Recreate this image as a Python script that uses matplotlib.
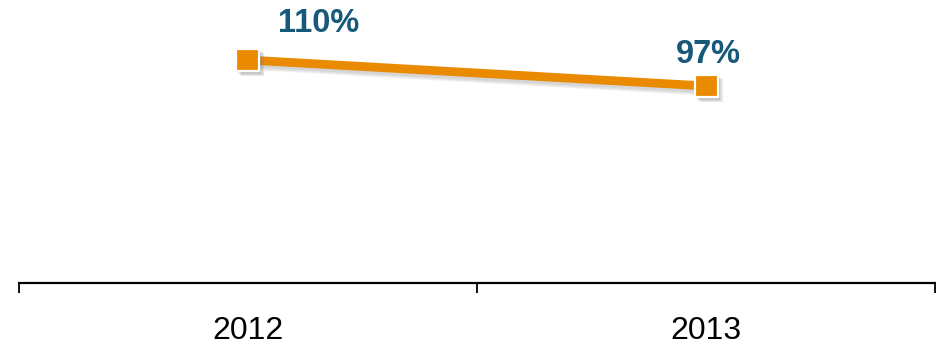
import matplotlib
matplotlib.use('Agg')
import matplotlib.pyplot as plt
import matplotlib.patheffects as pe

# données
annees = ["2012", "2013"]
valeurs = [110, 97]
etiquettes = ["110%", "97%"]

ORANGE = "#E98A00"
BLEU = "#17597A"

plt.rcParams['font.family'] = ['Liberation Sans', 'DejaVu Sans']

fig = plt.figure(figsize=(9.37, 3.45), dpi=100)
ax = fig.add_axes([18.5 / 937, 1 - 283 / 345, (935.5 - 18.5) / 937, 283 / 345])

# ombre douce : plusieurs couches décalées
ombre_ligne = [pe.SimpleLineShadow(offset=(o, -o - 1), shadow_color="gray", alpha=0.12)
               for o in (1, 2, 3)]
ombre_carre = [pe.SimplePatchShadow(offset=(o, -o), shadow_rgbFace="gray", alpha=0.18)
               for o in (1.5, 2.5, 3.5)]

x = list(range(len(annees)))
ax.plot(x, valeurs, color=ORANGE, lw=6.3, solid_capstyle="butt", zorder=2,
        path_effects=ombre_ligne + [pe.Normal()])
ax.plot(x, valeurs, ls="none", marker="s", ms=16.5, mfc=ORANGE, mec="white", mew=1.6, zorder=3,
        path_effects=ombre_carre + [pe.Normal()])

# étiquettes de valeurs
decalages = [(51, 26), (1.5, 23)]
for xi, v, lab, d in zip(x, valeurs, etiquettes, decalages):
    ax.annotate(lab, (xi, v), xytext=d, textcoords="offset points",
                ha="center", va="center", fontsize=23.5, fontweight="bold", color=BLEU)

ax.set_xlim(-0.5, 1.5)
ax.set_ylim(-1.5, 140)
for s in ["left", "right", "top"]:
    ax.spines[s].set_visible(False)
ax.spines["bottom"].set_linewidth(1.6)
ax.set_yticks([])
ax.set_xticks(x)
ax.set_xticklabels(annees, fontsize=23)
ax.tick_params(axis="x", which="major", length=0, pad=24)
ax.set_xticks([-0.5, 0.5, 1.5], minor=True)
ax.tick_params(axis="x", which="minor", length=7.5, width=1.3, direction="out")

plt.savefig("out.png", dpi=100)
